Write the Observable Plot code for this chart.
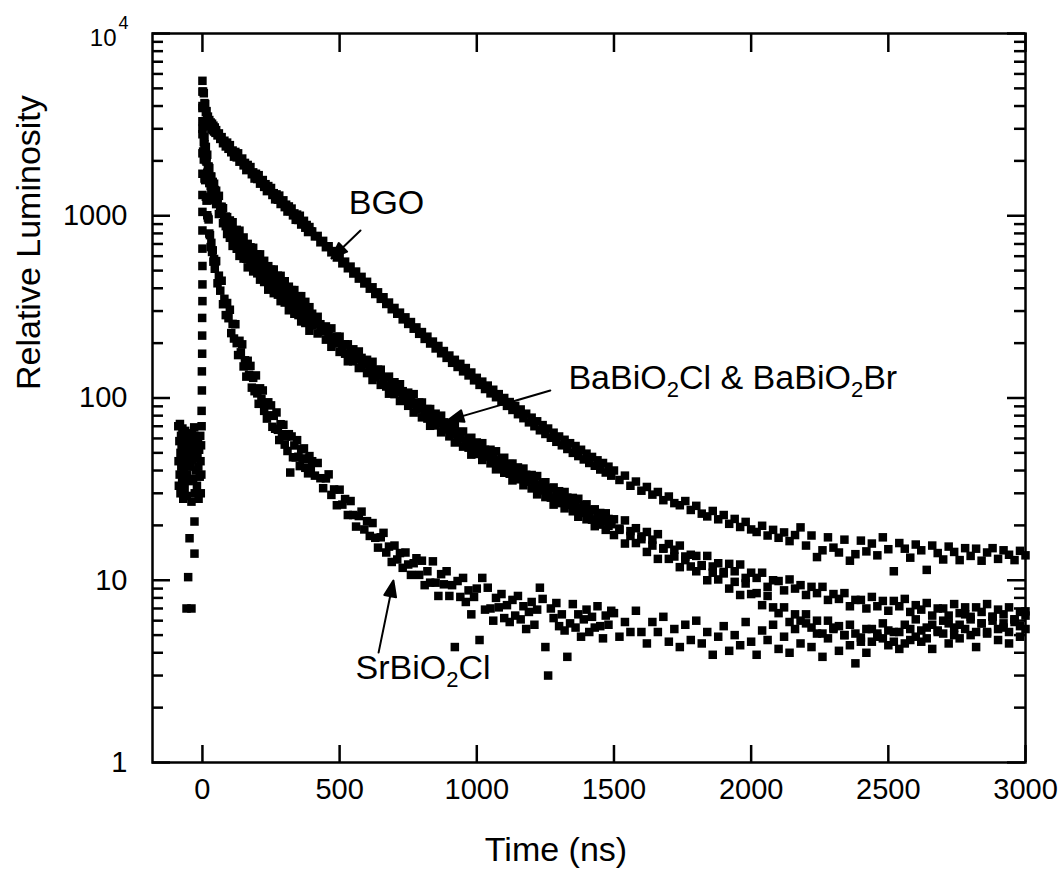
<!DOCTYPE html>
<html>
<head>
<meta charset="utf-8">
<script src="https://cdn.jsdelivr.net/npm/d3@7"></script>
<script src="https://cdn.jsdelivr.net/npm/@observablehq/plot@0.6"></script>
<style>
  html, body { margin: 0; padding: 0; background: #fff; }
  svg { display: block; }
</style>
</head>
<body>
<div id="chart"></div>
<script>
// ---------- sampling times (ns) shared by the four decay curves ----------
const times = [
  0,2.5,5,7.5,10,12.5,15,17.5,20,22.5,25,27.5,30,32.5,35,37.5,40,42.5,45,47.5,
  50,55,60,65,70,75,80,85,90,95,
  100,105,110,115,120,125,130,135,140,145,150,155,160,165,170,175,180,185,190,195,200,205,210,215,220,225,230,235,240,245,
  250,255,260,265,270,275,280,285,290,295,300,305,310,315,320,325,330,335,340,345,350,355,360,365,370,375,380,385,390,395,
  400,410,420,430,440,450,460,470,480,490,500,510,520,530,540,550,560,570,580,590,600,610,620,630,640,650,660,670,680,690,
  700,710,720,730,740,750,760,770,780,790,800,810,820,830,840,850,860,870,880,890,900,910,920,930,940,950,960,970,980,990,
  1000,1010,1020,1030,1040,1050,1060,1070,1080,1090,1100,1110,1120,1130,1140,1150,1160,1170,1180,1190,1200,1210,1220,1230,1240,1250,1260,1270,1280,1290,
  1300,1310,1320,1330,1340,1350,1360,1370,1380,1390,1400,1410,1420,1430,1440,1450,1460,1470,1480,1490,
  1500,1520,1540,1560,1580,1600,1620,1640,1660,1680,1700,1720,1740,1760,1780,1800,1820,1840,1860,1880,1900,1920,1940,1960,1980,2000,2020,2040,2060,2080,
  2100,2120,2140,2160,2180,2200,2220,2240,2260,2280,2300,2320,2340,2360,2380,2400,2420,2440,2460,2480,2500,2520,2540,2560,2580,2600,2620,2640,2660,2680,
  2700,2720,2740,2760,2780,2800,2820,2840,2860,2880,2900,2920,2940,2960,2980,3000
];

// ---------- relative luminosity ----------
const bgo = [
  5500,4800,4700,4150,4100,3700,3750,3400,3500,3200,3350,3100,3250,3000,3200,2950,3120,2900,3050,2850,
  2950,2760,2830,2640,2700,2500,2580,2400,2520,2330,
  2440,2230,2280,2110,2240,2090,2200,1980,2022,2060,1890,1950,1780,1900,1790,1850,1690,1730,1600,1700,1590,1670,1500,1540,1570,1440,1490,1365,1455,1375,
  1420,1300,1330,1230,1310,1225,1290,1160,1190,1215,1115,1150,1055,1125,1060,1095,1005,1030,950,1015,948,1000,895,918,938,860,890,814,867,820,
  820,770,775,715,728,672,680,630,640,590,598,548,560,515,526,482,494,452,462,425,434,398,405,372,380,350,357,328,334,307,
  312,290,294,270,277,255,261,240,244,225,230,211,217,199,204,187,193,176,181,166,171,156,162,148,154,140,146,133,138,125,
  129,118,123,112,117,106,111,101,105,95.5,100,90.5,95,86,90.5,81.5,86.5,77.5,82,73.5,78,70,74.5,66.5,71,63.5,68,60.5,64.5,57.5,
  61.5,55,59,52.5,56.5,50,54.5,48,52,46,49.5,44,47.5,42.5,45.5,40.5,44,39,42,37.5,
  40,35.5,37.5,33,34.8,31,32.5,29.5,30.5,27.5,28.8,26.5,25.8,27.2,24.3,25.6,23.2,22.4,24.0,21.6,22.8,20.4,21.7,19.6,20.9,19.0,18.4,19.9,17.6,18.9,
  17.1,18.3,16.4,17.7,19.5,15.5,17.6,13.4,14.6,17.2,15.1,14.2,16.7,12.8,13.9,16.5,14.4,15.9,13.7,17.2,14.8,11.2,16.0,14.9,13.3,15.7,14.6,11.4,15.5,14.1,
  13.0,15.3,14.3,12.9,15.0,13.6,14.9,12.8,14.2,15.0,13.1,14.6,13.8,12.9,14.5,13.7
];
const baBiO2Cl = [
  4000,3255,3128,2700,2344,2387,2124,2162,1856,1862,1826,1616,1642,1640,1506,1534,1421,1499,1384,1288,
  1372,1250,1286,1118,1120,1100,976,989,983,897,
  942,850,921,830,759,837,760,828,706,744,760,652,681,701,634,671,613,667,601,552,614,561,614,523,551,566,489,514,529,478,
  506,462,507,459,422,469,427,468,402,426,437,377,396,408,369,391,357,391,354,325,362,330,362,310,329,337,291,307,315,285,
  290,268,279,254,234,247,230,241,213,217,217,193,197,197,181,185,172,180,166,153,162,151,158,140,143,143,127,130,131,119.5,
  122,113,119,109,101,107,100,105,93,94.5,94.5,85,87,87,80,82,76,80,73.5,68.5,73,68,71.5,64,65,65.5,58.5,60,60.5,56,
  57,53.5,56.5,52,48.6,52,48.5,51,45.5,46.5,47,42.2,43.4,43.7,40.5,41.6,38.8,41,37.9,35.4,37.8,35.4,37.3,33.4,34.3,34.5,31.1,32,32.3,29.9,
  30.8,28.8,30.5,28.4,26.5,28.3,26.5,28,25.1,25.8,26.1,23.5,24.3,24.5,22.8,23.4,22,23.3,21.7,20.3,
  21.6,18.9,21.3,18.6,19.3,16.8,18.4,16.7,17.9,14.9,15.8,14.7,15.5,12.9,13.8,13.6,12,13.6,11.9,12.4,11.1,12.3,11.2,12.2,10.3,11,10.3,11,9.2,10,
  9.9,8.8,10.1,9.0,9.4,8.3,9.2,8.5,9.2,7.8,8.4,7.9,8.5,7.2,7.8,7.8,7.0,8.1,7.2,7.7,6.8,7.7,7.2,7.9,6.7,7.3,6.9,7.5,6.4,7.0,
  7.0,6.4,7.4,6.6,7.1,6.3,7.1,6.7,7.4,6.3,6.9,6.5,7.1,6.1,6.7,6.75
];
const baBiO2Br = [
  3300,3097,2536,2467,2367,2015,1981,1718,1729,1723,1511,1536,1456,1324,1418,1321,1352,1215,1265,1301,
  1158,1166,1022,1041,1037,910,927,877,794,845,
  757,801,683,737,767,659,695,602,644,669,582,614,581,521,592,539,577,495,534,558,483,513,446,477,496,433,460,438,393,446,
  407,435,376,408,426,369,391,340,366,383,334,354,338,303,344,314,336,290,314,328,285,301,263,283,296,258,274,261,234,266,
  250,255,226,232,236,209,214,191,199,201,179,183,175,159,171,159,164,146,152,155,137,141,125.5,130,133,118,121,115.6,105.6,112.5,
  105,108,96.3,99.8,102,90.6,93.1,83.2,86.5,87.6,78.3,80.6,77.1,70.4,75.7,70.7,72.5,64.8,67.2,69.2,61.6,63.5,57,59.4,60.4,54.1,55.7,53.4,48.9,52.7,
  49.3,50.9,45.7,47.7,49.1,43.8,45.2,40.6,42.4,43.2,38.9,40.1,38.4,35.3,38.1,35.8,36.9,33.2,34.7,35.8,31.9,33,29.6,31.1,31.8,28.6,29.6,28.4,26,28.1,
  26.5,27.4,24.8,25.9,26.8,23.9,24.7,22.3,23.4,23.9,21.6,22.4,21.5,19.8,21.4,20.2,21,18.9,19.9,20.5,
  17.7,19.2,15.9,17.5,16,17.4,14.3,15.5,13.1,15,13.1,13.5,11.8,13.5,11.9,11.2,12.1,10,11,10.1,10.9,9,9.8,8.3,9.6,8.4,8.5,7.3,8.2,7.1,
  6.6,7.1,5.9,6.5,6.0,6.5,5.5,6.0,5.1,6.0,5.4,5.6,5.0,5.7,5.1,4.85,5.4,4.6,5.1,4.8,5.3,4.6,5.2,4.5,5.4,4.9,5.3,4.8,5.7,5.2,
  5.1,5.8,5.0,5.7,5.4,6.1,5.2,5.8,5.1,6.0,5.4,5.8,5.2,6.1,5.6,5.4
];
const srBiO2Cl = [
  2800,2250,2035,1600,1568,1271,1210,1006,977,954,799,783,673,710,633,646,560,579,512,562,
  564,426,469,388,440,327,350,285,332,274,
  305,227,255,212,254,200,172,206,178,197,149,161,131,160,134,150,114,129,109,133,106,92.9,113,99,110,85,93,77.1,94.7,80.3,
  91.1,69.5,79.8,67.8,83.3,66.9,58.8,71.8,63.3,71.3,55.5,61.5,51.2,63.3,39,61.5,47.3,54.9,47.2,58.7,47.6,42.3,52.3,46.6,52.9,41.4,46.1,38.6,48,41,
  45,37.5,44,36.3,32,36.2,38.1,29.4,31.5,25.8,31.4,26,27.9,22.8,27.2,22.8,19.7,22.5,23.8,19,21.1,17.5,20.6,17.1,15.1,17.2,18.2,14.2,15.3,12.6,
  15.5,13,14.1,11.7,14.2,12.2,10.7,12.4,13.2,10.7,12.8,9.4,11.2,9.7,12.7,9.7,8.2,10.8,9.5,11.2,8.2,9.4,4.3,9.9,8.1,10.3,7.6,8.8,6.5,8.1,
  9.0,4.7,10.3,6.9,9.1,7.0,6.0,8.0,7.1,8.4,6.2,7.3,5.9,7.8,6.4,8.2,6.1,7.2,5.4,6.7,7.6,5.7,6.9,9.1,7.9,4.3,3.0,7.0,6.2,7.5,
  5.6,6.5,5.3,3.8,5.8,7.4,5.5,6.5,4.9,6.1,6.9,5.2,6.3,5.5,7.2,5.6,4.8,6.4,5.7,6.8,
  6.6,4.9,5.9,5.2,6.8,5.2,4.5,5.9,5.2,6.3,4.6,5.4,4.3,5.7,4.7,6.0,4.5,5.2,3.9,4.9,5.6,4.1,5.0,4.4,5.9,4.6,3.9,5.3,4.7,5.7,
  4.2,4.9,4.0,5.4,4.5,5.8,4.3,5.1,3.8,4.8,5.5,4.1,5.0,4.4,3.5,4.6,4.0,5.4,4.9,5.8,4.4,5.2,4.2,5.7,4.7,6.1,4.6,5.5,4.2,5.3,
  6.0,4.5,5.5,4.8,6.5,5.0,4.3,5.8,5.2,6.3,4.7,5.5,4.5,5.9,4.9,6.4
];
const seriesNames = ["BGO", "BaBiO2Cl", "BaBiO2Br", "SrBiO2Cl"];
const seriesValues = [bgo, baBiO2Cl, baBiO2Br, srBiO2Cl];

// pre-trigger background and rising edge (all samples)
const preTimes = [
  -88,-87,-86,-84,-83,-82,-80,-80,-78,-77,-76,-74,-73,-72,-70,-69,-68,-66,-65,-63,-62,-60,-58,-57,-56,-55,-52,-51,-50,-48,
  -47,-46,-44,-42,-40,-40,-38,-36,-34,-32,-30,-29,-29,-28,-26,-24,-22,-20,-18,-16,-15,-14,-12,-10,-8,-7,-6,-5,-4,-3,
  -3,-2,-2,-1,-1,-1,0,0,0,0,0,0,0,0,0,0,0,0
];
const preValues = [
  70,45,33,58,38,72,50,30,62,42,55,35,68,47,28,60,40,52,32,66,44,56,7,29,38,62,10.4,48,35,58,
  17,44,42,53,27,7,64,46,36,56,69,21,14,30,50,40,60,33,47,58,42,28,52,37,62,45,30,55,38,70,
  85,110,140,175,220,275,340,420,530,660,830,1050,1300,1700,2200,3000,3900,4800
];

// ---------- axes ----------
const xDomain = [-182, 3000];
const yDomain = [1, 10000];
const xTicks = [0, 500, 1000, 1500, 2000, 2500, 3000];
const xTickLabels = ["0", "500", "1000", "1500", "2000", "2500", "3000"];
const yMajor = [1, 10, 100, 1000, 10000];
const yMajorLabels = ["1", "10", "100", "1000"];
const yTopLabel = "10^4";
const yMinor = [2,3,4,5,6,7,8,9, 20,30,40,50,60,70,80,90, 200,300,400,500,600,700,800,900, 2000,3000,4000,5000,6000,7000,8000,9000];
const xTitle = "Time (ns)";
const yTitle = "Relative Luminosity";

// ---------- annotations (data coordinates) ----------
const labelTexts = ["BGO", "BaBiO_2Cl & BaBiO_2Br", "SrBiO_2Cl"];
const labelT = [671, 1334, 558];
const labelV = [1016, 112.7, 2.89];
const labelAnchor = ["middle", "start", "start"];
const arrowTailT = [576, 1268, 642];
const arrowTailV = [830, 110, 4.01];
const arrowTipT = [470, 893, 696];
const arrowTipV = [583, 75.2, 9.97];

// ---------- build tables ----------
if (seriesValues.some(s => s.length !== times.length)) throw new Error("length mismatch " + times.length + " vs " + seriesValues.map(s => s.length));
if (preTimes.length !== preValues.length) throw new Error("pre length mismatch");
const points = [];
seriesValues.forEach((vals, k) => vals.forEach((v, i) => points.push({t: times[i], v, series: seriesNames[k]})));
preTimes.forEach((t, i) => points.push({t, v: preValues[i], series: "pre"}));
const labels = labelTexts.map((text, i) => ({text, t: labelT[i], v: labelV[i], anchor: labelAnchor[i]}));

const W = 1062, H = 893, ML = 152, MR = 37, MT = 33, MB = 131;
const frameW = W - ML - MR, frameH = H - MT - MB;
const font = "'Liberation Sans', Arial, Helvetica, sans-serif";

const sx = Plot.scale({x: {domain: xDomain, range: [ML, W - MR]}});
const sy = Plot.scale({y: {type: "log", domain: yDomain, range: [H - MB, MT]}});

const arrowShape = {
  draw(context, l) {
    const hl = 16, hw = 6;
    context.moveTo(0, 0);
    context.lineTo(0, -l + hl * 0.7);
    context.moveTo(0, -l);
    context.lineTo(hw, -l + hl);
    context.lineTo(-hw, -l + hl);
    context.closePath();
  }
};
const arrowMarks = arrowTipT.map((tt, i) => {
  const dx = sx.apply(tt) - sx.apply(arrowTailT[i]);
  const dy = sy.apply(arrowTipV[i]) - sy.apply(arrowTailV[i]);
  const len = Math.hypot(dx, dy);
  const ang = Math.atan2(dx, -dy) * 180 / Math.PI;
  return Plot.vector([{t: tt, v: arrowTipV[i]}], {
    x: "t", y: "v", anchor: "end", length: len, rotate: ang, shape: arrowShape,
    stroke: "black", fill: "black", strokeWidth: 2
  });
});

const tickStyle = {stroke: "black", strokeWidth: 2.5};
const chart = Plot.plot({
  width: W, height: H,
  marginLeft: ML, marginRight: MR, marginTop: MT, marginBottom: MB,
  x: {domain: xDomain, axis: null},
  y: {type: "log", domain: yDomain, axis: null},
  style: {fontFamily: font, background: "white", color: "black", overflow: "visible"},
  marks: [
    Plot.dot(points, {x: "t", y: "v", symbol: "square", r: 4.8, fill: "black", stroke: "none"}),
    // left / right ticks (inward)
    Plot.tickY(yMajor, {y: d => d, insetRight: frameW - 18, ...tickStyle}),
    Plot.tickY(yMinor, {y: d => d, insetRight: frameW - 11, ...tickStyle}),
    Plot.tickY(yMajor, {y: d => d, insetLeft: frameW - 18, ...tickStyle}),
    Plot.tickY(yMinor, {y: d => d, insetLeft: frameW - 11, ...tickStyle}),
    // top / bottom ticks (inward)
    Plot.tickX(xTicks, {x: d => d, insetBottom: frameH - 19, ...tickStyle}),
    Plot.tickX(xTicks, {x: d => d, insetTop: frameH - 17, ...tickStyle}),
    Plot.frame({stroke: "black", strokeWidth: 2.5}),
    // tick labels
    Plot.text(yMajor.slice(0, 4), {y: d => d, frameAnchor: "left", text: (d, i) => yMajorLabels[i], textAnchor: "end", dx: -25, fontSize: 29, fill: "black"}),
    Plot.text([yMajor[4]], {y: d => d, frameAnchor: "left", text: () => yTopLabel, textAnchor: "end", dx: -24, dy: 5, fontSize: 24, fill: "black"}),
    Plot.text(xTicks, {x: d => d, frameAnchor: "bottom", text: (d, i) => xTickLabels[i], dy: 36, fontSize: 29, fill: "black"}),
    // axis titles
    Plot.text([xTitle], {frameAnchor: "bottom", text: d => d, dx: -33, dy: 98, lineAnchor: "bottom", fontSize: 34, fill: "black"}),
    Plot.text([yTitle], {frameAnchor: "left", text: d => d, rotate: -90, dx: -113, dy: -8, lineAnchor: "bottom", fontSize: 34, fill: "black"}),
    // annotations
    Plot.text(labels.filter(d => d.anchor === "middle"), {x: "t", y: "v", text: "text", textAnchor: "middle", lineAnchor: "bottom", fontSize: 34, fill: "black"}),
    Plot.text(labels.filter(d => d.anchor === "start"), {x: "t", y: "v", text: "text", textAnchor: "start", lineAnchor: "bottom", fontSize: 34, fill: "black"}),
    ...arrowMarks
  ]
});

// sub/superscripts: "_2" -> subscript 2, "^4" -> superscript 4
chart.querySelectorAll("text").forEach(el => {
  const s = el.textContent;
  if (!/[_^]\d/.test(s)) return;
  const parts = s.split(/([_^]\d)/);
  el.textContent = "";
  let offset = 0;
  for (const p of parts) {
    if (!p) continue;
    const ts = document.createElementNS("http://www.w3.org/2000/svg", "tspan");
    if (p[0] === "_" || p[0] === "^") {
      const sup = p[0] === "^";
      const shift = sup ? -17 : 8;
      ts.setAttribute("dy", shift - offset);
      if (sup) ts.setAttribute("dx", 2);
      offset = shift;
      ts.setAttribute("font-size", sup ? "18" : "22");
      ts.textContent = p.slice(1);
    } else {
      if (offset) { ts.setAttribute("dy", -offset); offset = 0; }
      ts.textContent = p;
    }
    el.appendChild(ts);
  }
});

document.getElementById("chart").appendChild(chart);
</script>
</body>
</html>
